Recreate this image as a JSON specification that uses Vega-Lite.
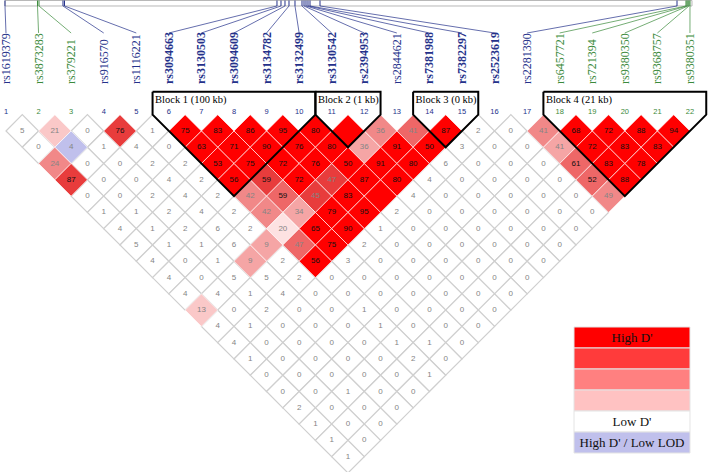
{
"$schema":"https://vega.github.io/schema/vega-lite/v6.json",
"width":709,"height":472,"padding":0,"autosize":{"type":"none"},
"background":"#ffffff",
"config":{"view":{"stroke":null},"axis":{"disable":true}},
"datasets":{
"cells":[
{"m":1.5,"d":1,"v":5,"t":0},{"m":2.5,"d":1,"v":21,"t":2},{"m":3.5,"d":1,"v":0,"t":0},{"m":4.5,"d":1,"v":76,"t":6},{"m":5.5,"d":1,"v":1,"t":0},{"m":6.5,"d":1,"v":75,"t":7},{"m":7.5,"d":1,"v":83,"t":7},{"m":8.5,"d":1,"v":86,"t":7},{"m":9.5,"d":1,"v":95,"t":7},{"m":10.5,"d":1,"v":80,"t":7},{"m":11.5,"d":1,"v":null,"t":7},{"m":12.5,"d":1,"v":36,"t":4},{"m":13.5,"d":1,"v":41,"t":5},{"m":14.5,"d":1,"v":87,"t":7},{"m":15.5,"d":1,"v":2,"t":0},{"m":16.5,"d":1,"v":0,"t":0},{"m":17.5,"d":1,"v":41,"t":4},{"m":18.5,"d":1,"v":68,"t":7},{"m":19.5,"d":1,"v":72,"t":7},{"m":20.5,"d":1,"v":88,"t":7},{"m":21.5,"d":1,"v":94,"t":7},
{"m":2,"d":2,"v":0,"t":0},{"m":3,"d":2,"v":4,"t":8},{"m":4,"d":2,"v":1,"t":0},{"m":5,"d":2,"v":4,"t":0},{"m":6,"d":2,"v":0,"t":0},{"m":7,"d":2,"v":63,"t":7},{"m":8,"d":2,"v":71,"t":7},{"m":9,"d":2,"v":90,"t":7},{"m":10,"d":2,"v":76,"t":7},{"m":11,"d":2,"v":80,"t":7},{"m":12,"d":2,"v":36,"t":3},{"m":13,"d":2,"v":91,"t":7},{"m":14,"d":2,"v":50,"t":7},{"m":15,"d":2,"v":3,"t":0},{"m":16,"d":2,"v":0,"t":0},{"m":17,"d":2,"v":0,"t":0},{"m":18,"d":2,"v":41,"t":3},{"m":19,"d":2,"v":72,"t":7},{"m":20,"d":2,"v":83,"t":7},{"m":21,"d":2,"v":83,"t":7},
{"m":2.5,"d":3,"v":24,"t":4},{"m":3.5,"d":3,"v":0,"t":0},{"m":4.5,"d":3,"v":0,"t":0},{"m":5.5,"d":3,"v":2,"t":0},{"m":6.5,"d":3,"v":2,"t":0},{"m":7.5,"d":3,"v":53,"t":7},{"m":8.5,"d":3,"v":75,"t":7},{"m":9.5,"d":3,"v":72,"t":7},{"m":10.5,"d":3,"v":76,"t":7},{"m":11.5,"d":3,"v":50,"t":7},{"m":12.5,"d":3,"v":91,"t":7},{"m":13.5,"d":3,"v":80,"t":7},{"m":14.5,"d":3,"v":6,"t":0},{"m":15.5,"d":3,"v":0,"t":0},{"m":16.5,"d":3,"v":0,"t":0},{"m":17.5,"d":3,"v":0,"t":0},{"m":18.5,"d":3,"v":61,"t":5},{"m":19.5,"d":3,"v":83,"t":7},{"m":20.5,"d":3,"v":78,"t":7},
{"m":3,"d":4,"v":87,"t":6},{"m":4,"d":4,"v":0,"t":0},{"m":5,"d":4,"v":0,"t":0},{"m":6,"d":4,"v":4,"t":0},{"m":7,"d":4,"v":2,"t":0},{"m":8,"d":4,"v":56,"t":7},{"m":9,"d":4,"v":59,"t":6},{"m":10,"d":4,"v":72,"t":7},{"m":11,"d":4,"v":47,"t":6},{"m":12,"d":4,"v":87,"t":7},{"m":13,"d":4,"v":80,"t":7},{"m":14,"d":4,"v":4,"t":0},{"m":15,"d":4,"v":0,"t":0},{"m":16,"d":4,"v":0,"t":0},{"m":17,"d":4,"v":0,"t":0},{"m":18,"d":4,"v":0,"t":0},{"m":19,"d":4,"v":52,"t":5},{"m":20,"d":4,"v":88,"t":7},
{"m":3.5,"d":5,"v":0,"t":0},{"m":4.5,"d":5,"v":0,"t":0},{"m":5.5,"d":5,"v":2,"t":0},{"m":6.5,"d":5,"v":4,"t":0},{"m":7.5,"d":5,"v":2,"t":0},{"m":8.5,"d":5,"v":42,"t":4},{"m":9.5,"d":5,"v":59,"t":5},{"m":10.5,"d":5,"v":45,"t":6},{"m":11.5,"d":5,"v":83,"t":7},{"m":12.5,"d":5,"v":null,"t":7},{"m":13.5,"d":5,"v":4,"t":0},{"m":14.5,"d":5,"v":0,"t":0},{"m":15.5,"d":5,"v":0,"t":0},{"m":16.5,"d":5,"v":0,"t":0},{"m":17.5,"d":5,"v":0,"t":0},{"m":18.5,"d":5,"v":0,"t":0},{"m":19.5,"d":5,"v":49,"t":4},
{"m":4,"d":6,"v":1,"t":0},{"m":5,"d":6,"v":1,"t":0},{"m":6,"d":6,"v":2,"t":0},{"m":7,"d":6,"v":4,"t":0},{"m":8,"d":6,"v":2,"t":0},{"m":9,"d":6,"v":42,"t":4},{"m":10,"d":6,"v":34,"t":3},{"m":11,"d":6,"v":79,"t":7},{"m":12,"d":6,"v":95,"t":7},{"m":13,"d":6,"v":2,"t":0},{"m":14,"d":6,"v":0,"t":0},{"m":15,"d":6,"v":0,"t":0},{"m":16,"d":6,"v":0,"t":0},{"m":17,"d":6,"v":0,"t":0},{"m":18,"d":6,"v":0,"t":0},{"m":19,"d":6,"v":0,"t":0},
{"m":4.5,"d":7,"v":4,"t":0},{"m":5.5,"d":7,"v":1,"t":0},{"m":6.5,"d":7,"v":2,"t":0},{"m":7.5,"d":7,"v":6,"t":0},{"m":8.5,"d":7,"v":2,"t":0},{"m":9.5,"d":7,"v":20,"t":1},{"m":10.5,"d":7,"v":65,"t":7},{"m":11.5,"d":7,"v":90,"t":7},{"m":12.5,"d":7,"v":1,"t":0},{"m":13.5,"d":7,"v":0,"t":0},{"m":14.5,"d":7,"v":0,"t":0},{"m":15.5,"d":7,"v":0,"t":0},{"m":16.5,"d":7,"v":0,"t":0},{"m":17.5,"d":7,"v":0,"t":0},{"m":18.5,"d":7,"v":0,"t":0},
{"m":5,"d":8,"v":5,"t":0},{"m":6,"d":8,"v":1,"t":0},{"m":7,"d":8,"v":1,"t":0},{"m":8,"d":8,"v":6,"t":0},{"m":9,"d":8,"v":9,"t":3},{"m":10,"d":8,"v":47,"t":5},{"m":11,"d":8,"v":75,"t":7},{"m":12,"d":8,"v":2,"t":0},{"m":13,"d":8,"v":0,"t":0},{"m":14,"d":8,"v":0,"t":0},{"m":15,"d":8,"v":0,"t":0},{"m":16,"d":8,"v":0,"t":0},{"m":17,"d":8,"v":0,"t":0},{"m":18,"d":8,"v":0,"t":0},
{"m":5.5,"d":9,"v":4,"t":0},{"m":6.5,"d":9,"v":0,"t":0},{"m":7.5,"d":9,"v":1,"t":0},{"m":8.5,"d":9,"v":9,"t":3},{"m":9.5,"d":9,"v":2,"t":0},{"m":10.5,"d":9,"v":56,"t":7},{"m":11.5,"d":9,"v":3,"t":0},{"m":12.5,"d":9,"v":0,"t":0},{"m":13.5,"d":9,"v":0,"t":0},{"m":14.5,"d":9,"v":0,"t":0},{"m":15.5,"d":9,"v":0,"t":0},{"m":16.5,"d":9,"v":0,"t":0},{"m":17.5,"d":9,"v":0,"t":0},
{"m":6,"d":10,"v":4,"t":0},{"m":7,"d":10,"v":0,"t":0},{"m":8,"d":10,"v":5,"t":0},{"m":9,"d":10,"v":5,"t":0},{"m":10,"d":10,"v":2,"t":0},{"m":11,"d":10,"v":0,"t":0},{"m":12,"d":10,"v":0,"t":0},{"m":13,"d":10,"v":0,"t":0},{"m":14,"d":10,"v":0,"t":0},{"m":15,"d":10,"v":0,"t":0},{"m":16,"d":10,"v":0,"t":0},{"m":17,"d":10,"v":0,"t":0},
{"m":6.5,"d":11,"v":4,"t":0},{"m":7.5,"d":11,"v":4,"t":0},{"m":8.5,"d":11,"v":1,"t":0},{"m":9.5,"d":11,"v":4,"t":0},{"m":10.5,"d":11,"v":0,"t":0},{"m":11.5,"d":11,"v":0,"t":0},{"m":12.5,"d":11,"v":0,"t":0},{"m":13.5,"d":11,"v":0,"t":0},{"m":14.5,"d":11,"v":0,"t":0},{"m":15.5,"d":11,"v":0,"t":0},{"m":16.5,"d":11,"v":0,"t":0},
{"m":7,"d":12,"v":13,"t":2},{"m":8,"d":12,"v":0,"t":0},{"m":9,"d":12,"v":2,"t":0},{"m":10,"d":12,"v":0,"t":0},{"m":11,"d":12,"v":0,"t":0},{"m":12,"d":12,"v":1,"t":0},{"m":13,"d":12,"v":0,"t":0},{"m":14,"d":12,"v":0,"t":0},{"m":15,"d":12,"v":0,"t":0},{"m":16,"d":12,"v":0,"t":0},
{"m":7.5,"d":13,"v":4,"t":0},{"m":8.5,"d":13,"v":1,"t":0},{"m":9.5,"d":13,"v":0,"t":0},{"m":10.5,"d":13,"v":0,"t":0},{"m":11.5,"d":13,"v":0,"t":0},{"m":12.5,"d":13,"v":1,"t":0},{"m":13.5,"d":13,"v":0,"t":0},{"m":14.5,"d":13,"v":0,"t":0},{"m":15.5,"d":13,"v":0,"t":0},
{"m":8,"d":14,"v":4,"t":0},{"m":9,"d":14,"v":0,"t":0},{"m":10,"d":14,"v":0,"t":0},{"m":11,"d":14,"v":0,"t":0},{"m":12,"d":14,"v":0,"t":0},{"m":13,"d":14,"v":1,"t":0},{"m":14,"d":14,"v":1,"t":0},{"m":15,"d":14,"v":0,"t":0},
{"m":8.5,"d":15,"v":1,"t":0},{"m":9.5,"d":15,"v":0,"t":0},{"m":10.5,"d":15,"v":0,"t":0},{"m":11.5,"d":15,"v":0,"t":0},{"m":12.5,"d":15,"v":0,"t":0},{"m":13.5,"d":15,"v":2,"t":0},{"m":14.5,"d":15,"v":0,"t":0},
{"m":9,"d":16,"v":0,"t":0},{"m":10,"d":16,"v":0,"t":0},{"m":11,"d":16,"v":0,"t":0},{"m":12,"d":16,"v":0,"t":0},{"m":13,"d":16,"v":0,"t":0},{"m":14,"d":16,"v":1,"t":0},
{"m":9.5,"d":17,"v":0,"t":0},{"m":10.5,"d":17,"v":0,"t":0},{"m":11.5,"d":17,"v":1,"t":0},{"m":12.5,"d":17,"v":0,"t":0},{"m":13.5,"d":17,"v":0,"t":0},
{"m":10,"d":18,"v":2,"t":0},{"m":11,"d":18,"v":0,"t":0},{"m":12,"d":18,"v":0,"t":0},{"m":13,"d":18,"v":0,"t":0},
{"m":10.5,"d":19,"v":1,"t":0},{"m":11.5,"d":19,"v":0,"t":0},{"m":12.5,"d":19,"v":0,"t":0},
{"m":11,"d":20,"v":1,"t":0},{"m":12,"d":20,"v":0,"t":0},
{"m":11.5,"d":21,"v":1,"t":0}
],
"snps":[
{"k":1,"name":"rs1619379","g":"b","w":"n","p":0.969},
{"k":2,"name":"rs3873283","g":"g","w":"n","p":1.967},
{"k":3,"name":"rs379221","g":"g","w":"n","p":2.013},
{"k":4,"name":"rs916570","g":"b","w":"n","p":2.75},
{"k":5,"name":"rs1116221","g":"b","w":"n","p":2.796},
{"k":6,"name":"rs3094663","g":"b","w":"y","p":9.32},
{"k":7,"name":"rs3130503","g":"b","w":"y","p":9.443},
{"k":8,"name":"rs3094609","g":"b","w":"y","p":9.566},
{"k":9,"name":"rs3134782","g":"b","w":"y","p":9.689},
{"k":10,"name":"rs3132499","g":"b","w":"y","p":9.873},
{"k":11,"name":"rs3130542","g":"b","w":"y","p":10.088},
{"k":12,"name":"rs2394953","g":"b","w":"y","p":10.15},
{"k":13,"name":"rs2844621","g":"b","w":"n","p":10.211},
{"k":14,"name":"rs7381988","g":"b","w":"y","p":10.272},
{"k":15,"name":"rs7382297","g":"b","w":"y","p":10.334},
{"k":16,"name":"rs2523619","g":"b","w":"y","p":10.641},
{"k":17,"name":"rs2281390","g":"b","w":"n","p":21.602},
{"k":18,"name":"rs6457721","g":"g","w":"n","p":21.878},
{"k":19,"name":"rs721394","g":"g","w":"n","p":21.909},
{"k":20,"name":"rs9380350","g":"g","w":"n","p":21.94},
{"k":21,"name":"rs9368757","g":"g","w":"n","p":21.97},
{"k":22,"name":"rs9380351","g":"g","w":"n","p":22.001}
],
"blocks":[
{"b":1,"o":0,"x":5.5,"y":-1.412},{"b":1,"o":1,"x":10.5,"y":-1.412},{"b":1,"o":2,"x":10.5,"y":0},{"b":1,"o":3,"x":8,"y":5},{"b":1,"o":4,"x":5.5,"y":0},{"b":1,"o":5,"x":5.5,"y":-1.412},
{"b":2,"o":0,"x":10.5,"y":-1.412},{"b":2,"o":1,"x":12.5,"y":-1.412},{"b":2,"o":2,"x":12.5,"y":0},{"b":2,"o":3,"x":11.5,"y":2},{"b":2,"o":4,"x":10.5,"y":0},{"b":2,"o":5,"x":10.5,"y":-1.412},
{"b":3,"o":0,"x":13.5,"y":-1.412},{"b":3,"o":1,"x":15.5,"y":-1.412},{"b":3,"o":2,"x":15.5,"y":0},{"b":3,"o":3,"x":14.5,"y":2},{"b":3,"o":4,"x":13.5,"y":0},{"b":3,"o":5,"x":13.5,"y":-1.412},
{"b":4,"o":0,"x":17.5,"y":-1.412},{"b":4,"o":1,"x":22.5,"y":-1.412},{"b":4,"o":2,"x":22.5,"y":0},{"b":4,"o":3,"x":20,"y":5},{"b":4,"o":4,"x":17.5,"y":0},{"b":4,"o":5,"x":17.5,"y":-1.412}
],
"blabels":[
{"lx":5.5,"lab":"Block 1 (100 kb)"},{"lx":10.5,"lab":"Block 2 (1 kb)"},{"lx":13.5,"lab":"Block 3 (0 kb)"},{"lx":17.5,"lab":"Block 4 (21 kb)"}
],
"legend":[
{"slot":0,"t":7,"lab":"High D'"},{"slot":1,"t":9,"lab":""},{"slot":2,"t":10,"lab":""},{"slot":3,"t":11,"lab":""},{"slot":4,"t":0,"lab":"Low D'"},{"slot":5,"t":8,"lab":"High D' / Low LOD"}
]
},
"resolve":{"scale":{"y":"independent"}},
"layer":[
{"layer":[
{"data":{"values":[{}]},"mark":{"type":"rect","fillOpacity":0,"stroke":"#b8b8b8","strokeWidth":1},
 "encoding":{
  "x":{"datum":0.969,"type":"quantitative","scale":{"domain":[0.8158,22.5845],"nice":false,"zero":false},"axis":null},
  "x2":{"datum":22.062},
  "y":{"datum":-7.013,"type":"quantitative","scale":{"domain":[-7.0433,21.9404],"nice":false,"zero":false,"reverse":true},"axis":null},
  "y2":{"datum":-6.675}}},
{"data":{"name":"snps"},"mark":{"type":"rule","strokeWidth":1},
 "encoding":{
  "x":{"field":"p","type":"quantitative"},
  "y":{"datum":-7.013,"type":"quantitative"},
  "y2":{"datum":-6.675},
  "color":{"field":"g","type":"nominal","scale":{"domain":["b","g"],"range":["#24318a","#3b8a3b"]},"legend":null}}},
{"data":{"name":"snps"},"mark":{"type":"rule","strokeWidth":1,"opacity":0.7},
 "encoding":{
  "x":{"field":"p","type":"quantitative"},
  "x2":{"field":"k"},
  "y":{"datum":-6.675,"type":"quantitative"},
  "y2":{"datum":-5.017},
  "color":{"field":"g","type":"nominal","legend":null}}},
{"data":{"name":"snps"},"transform":[{"filter":"datum.w == 'n'"}],
 "mark":{"type":"text","angle":270,"align":"left","baseline":"middle","font":"Liberation Serif","fontSize":12},
 "encoding":{
  "x":{"field":"k","type":"quantitative"},
  "y":{"datum":-1.885,"type":"quantitative"},
  "text":{"field":"name"},
  "color":{"field":"g","type":"nominal","legend":null}}},
{"data":{"name":"snps"},"transform":[{"filter":"datum.w == 'y'"}],
 "mark":{"type":"text","angle":270,"align":"left","baseline":"middle","font":"Liberation Serif","fontSize":12,"fontWeight":"bold"},
 "encoding":{
  "x":{"field":"k","type":"quantitative"},
  "y":{"datum":-1.885,"type":"quantitative"},
  "text":{"field":"name"},
  "color":{"field":"g","type":"nominal","legend":null}}},
{"data":{"name":"snps"},
 "mark":{"type":"text","align":"center","baseline":"middle","font":"Liberation Sans","fontSize":7.5},
 "encoding":{
  "x":{"field":"k","type":"quantitative"},
  "y":{"datum":-0.196,"type":"quantitative"},
  "text":{"field":"k"},
  "color":{"field":"g","type":"nominal","legend":null}}},
{"data":{"name":"cells"},"transform":[{"filter":"datum.t == 0"}],
 "mark":{"type":"point","shape":"diamond","size":1061,"filled":true,"opacity":1,"stroke":"#cfcfcf","strokeWidth":1.2},
 "encoding":{
  "x":{"field":"m","type":"quantitative"},
  "y":{"field":"d","type":"quantitative"},
  "fill":{"field":"t","type":"ordinal","scale":{"domain":[0,1,2,3,4,5,6,7,8,9,10,11],"range":["#ffffff","#fde2e2","#fac8c8","#f5a5a5","#f18888","#ee6767","#e83c3c","#ff0000","#c0c0ec","#ff3b3b","#ff8080","#ffc2c2"]},"legend":null}}},
{"data":{"name":"cells"},"transform":[{"filter":"datum.t > 0"}],
 "mark":{"type":"point","shape":"diamond","size":1061,"filled":true,"opacity":1,"stroke":"#ffffff","strokeWidth":0.8,"strokeOpacity":0.8},
 "encoding":{
  "x":{"field":"m","type":"quantitative"},
  "y":{"field":"d","type":"quantitative"},
  "fill":{"field":"t","type":"ordinal","legend":null}}},
{"data":{"name":"cells"},"transform":[{"filter":"datum.v != null"}],
 "mark":{"type":"text","align":"center","baseline":"middle","font":"Liberation Sans","fontSize":8},
 "encoding":{
  "x":{"field":"m","type":"quantitative"},
  "y":{"field":"d","type":"quantitative"},
  "text":{"field":"v"},
  "color":{"condition":{"test":"datum.v >= 50","value":"#111111"},"value":"#858585"}}},
{"data":{"name":"blocks"},
 "mark":{"type":"line","color":"#000000","strokeWidth":2,"strokeJoin":"miter"},
 "encoding":{
  "x":{"field":"x","type":"quantitative"},
  "y":{"field":"y","type":"quantitative"},
  "detail":{"field":"b"},
  "order":{"field":"o","type":"quantitative"}}},
{"data":{"name":"blabels"},
 "mark":{"type":"text","align":"left","baseline":"middle","font":"Liberation Serif","fontSize":10.5,"dx":2.5,"color":"#000000"},
 "encoding":{
  "x":{"field":"lx","type":"quantitative"},
  "y":{"datum":-0.933,"type":"quantitative"},
  "text":{"field":"lab"}}}
]},
{"data":{"name":"legend"},
 "layer":[
 {"mark":{"type":"rect","stroke":"#e4e4e4","strokeWidth":1},
  "encoding":{
   "x":{"datum":18.44,"type":"quantitative"},
   "x2":{"datum":22.001},
   "y":{"field":"slot","type":"ordinal","scale":{"domain":[0,1,2,3,4,5],"range":[327,453],"paddingInner":0,"paddingOuter":0},"axis":null},
   "fill":{"field":"t","type":"ordinal","legend":null}}},
 {"mark":{"type":"text","align":"center","baseline":"middle","font":"Liberation Serif","fontSize":13,"color":"#111111"},
  "encoding":{
   "x":{"datum":20.22,"type":"quantitative"},
   "y":{"field":"slot","type":"ordinal"},
   "text":{"field":"lab"}}}
 ]}
]
}
